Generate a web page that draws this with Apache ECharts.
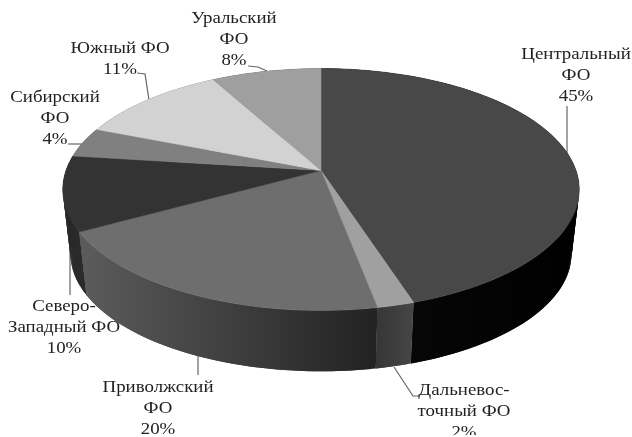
<!DOCTYPE html>
<html>
<head>
<meta charset="utf-8">
<style>
  html, body { margin: 0; padding: 0; background: #fff; overflow: hidden; }
  #chart { width: 632px; height: 437px; }
</style>
<script src="https://cdn.jsdelivr.net/npm/echarts@6/dist/echarts.min.js"></script>
</head>
<body>
<div id="chart"></div>
<script>
// данные, по часовой стрелке от верхней точки
const regions = ['Центральный\nФО', 'Дальневос-\nточный ФО', 'Приволжский\nФО', 'Северо-\nЗападный ФО', 'Сибирский\nФО', 'Южный ФО', 'Уральский\nФО']
const shares = [45, 2, 20, 10, 4, 11, 8]

const topColors = ['#484848', '#a0a0a0', '#6e6e6e', '#333333', '#808080', '#d2d2d2', '#9f9f9f']
// боковая грань: цвет слева и справа
const sideColors = [
  ['#0a0a0a', '#000000'],
  ['#363636', '#464646'],
  ['#5c5c5c', '#222222'],
  ['#262626', '#2c2c2c'],
  ['#444444', '#444444'],
  ['#666666', '#666666'],
  ['#555555', '#555555']
]

// подписи: центр текста и выноска
const labelPos = [[576, 76], [464, 412], [158, 408.5], [64, 328], [55, 119], [120, 59], [234, 40]]
const leaders = [
  [[567, 106], [567, 153]],
  [[394, 367], [413, 396], [419, 396]],
  [[198, 355], [198, 375]],
  [[70, 250], [70, 295]],
  [[68, 144], [85, 144]],
  [[137, 73], [145, 74], [149, 100]],
  [[248, 66], [258, 67], [267, 71]]
]

// проекция круга с перспективой
const cx = 321, cy = 170.5, rx = 255, ry = 118, persp = 0.157
const depthY = 65, bottomScale = 0.97
const total = shares.reduce((a, b) => a + b, 0)

function startShare(i) {
  let s = 0
  for (let k = 0; k < i; k++) s += shares[k]
  return s
}

function project(theta, level) {
  const x = Math.sin(theta), y = -Math.cos(theta)
  const s = 1 / (1 - persp * y)
  const f = level ? bottomScale : 1
  return [cx + rx * x * s * f, cy + (level ? depthY : 0) + ry * y * s * f]
}

function arc(i, level) {
  const a0 = startShare(i) / total * Math.PI * 2
  const a1 = (startShare(i) + shares[i]) / total * Math.PI * 2
  const n = Math.max(4, Math.ceil((a1 - a0) * 60))
  const pts = []
  for (let k = 0; k <= n; k++) pts.push(project(a0 + (a1 - a0) * k / n, level))
  return pts
}

// бок собирается из узких четырёхугольников внахлёст, иначе у краёв остаётся выемка
const renderSide = (params) => {
  const i = params.dataIndex
  const up = arc(i, 0), down = arc(i, 1)
  const xs = up.concat(down).map(p => p[0])
  const fill = {
    type: 'linear', global: true,
    x: Math.min(...xs), y: 0, x2: Math.max(...xs), y2: 0,
    colorStops: [{offset: 0, color: sideColors[i][0]}, {offset: 1, color: sideColors[i][1]}]
  }
  const last = up.length - 1
  const children = []
  for (let k = 0; k < last; k++) {
    const next = Math.min(k + 2, last)
    children.push({
      type: 'polygon',
      shape: {points: [up[k], up[next], down[next], down[k]]},
      style: {fill: fill}
    })
  }
  return {type: 'group', children: children}
}

const renderTop = (params) => {
  const i = params.dataIndex
  return {
    type: 'polygon',
    shape: {points: [[cx, cy]].concat(arc(i, 0))},
    style: {fill: topColors[i], stroke: topColors[i], lineWidth: 0.5}
  }
}

const graphics = []
leaders.forEach(pts => {
  graphics.push({type: 'polyline', shape: {points: pts}, style: {fill: null, stroke: '#666', lineWidth: 1.2}})
})
regions.forEach((name, i) => {
  graphics.push({
    type: 'text',
    x: labelPos[i][0],
    y: labelPos[i][1],
    scaleX: 1.11,
    style: {
      text: name + '\n' + shares[i] + '%',
      font: '17px "Liberation Serif"',
      fill: '#222',
      align: 'center',
      verticalAlign: 'middle',
      lineHeight: 21
    }
  })
})
// в оригинале нижняя строка обрезана краем рисунка
graphics.push({type: 'rect', shape: {x: 0, y: 435, width: 632, height: 2}, style: {fill: '#fff'}, z: 200})

const chart = echarts.init(document.getElementById('chart'))
const seriesData = shares.map((v, i) => [i, v])
chart.setOption({
  animation: false,
  backgroundColor: '#fff',
  series: [
    {type: 'custom', coordinateSystem: 'none', renderItem: renderSide, data: seriesData, z: 1, silent: true},
    {type: 'custom', coordinateSystem: 'none', renderItem: renderTop, data: seriesData, z: 2, silent: true}
  ],
  graphic: graphics
})
</script>
</body>
</html>
